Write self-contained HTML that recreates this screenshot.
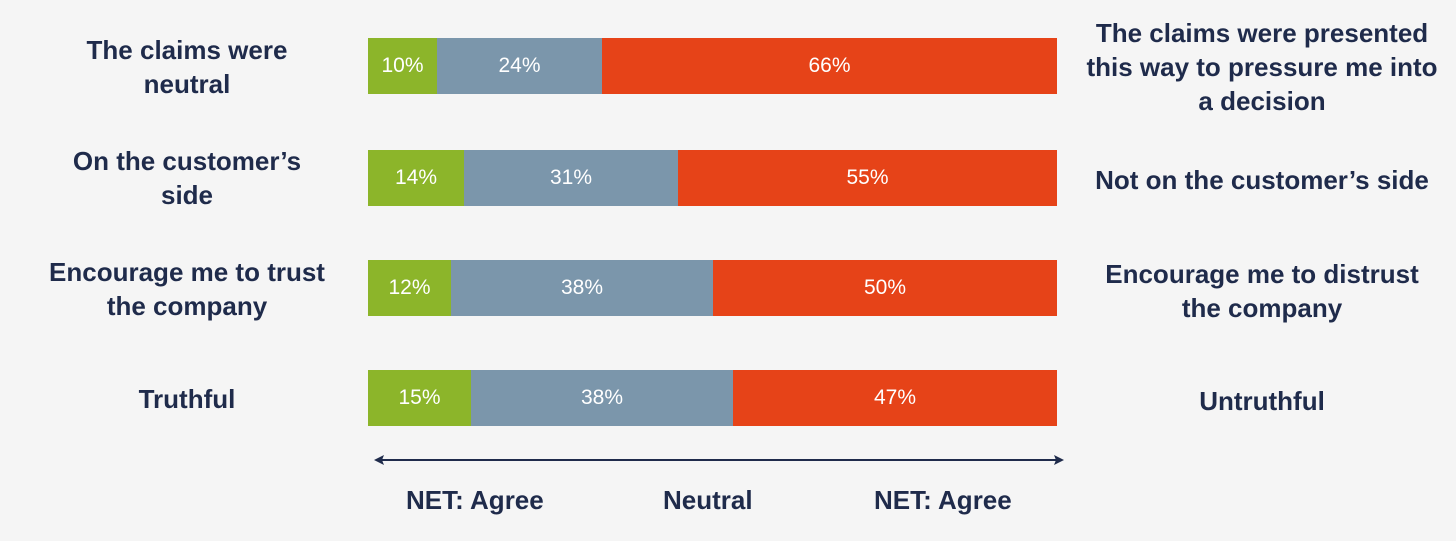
<!DOCTYPE html>
<html><head><style>
body{margin:0;width:1456px;height:541px;background:#f5f5f5;font-family:"Liberation Sans",sans-serif;overflow:hidden;position:relative}
.l,.r{position:absolute;color:#1f2b4b;font-size:26px;font-weight:bold;line-height:34px;text-align:center;transform:translateY(-50%)}
.l{left:7px;width:360px}
.r{left:1057px;width:410px}
.bar{position:absolute;left:368px;width:689px;height:56px;display:flex}
.bar div{height:100%;color:#fff;font-size:21px;display:flex;align-items:center;justify-content:center}
.g{background:#8cb52a}.b{background:#7b96ab}.o{background:#e64318}
.f{position:absolute;top:485px;font-size:26px;font-weight:bold;color:#1f2b4b}
</style></head><body>
<div class="l" style="top:67px">The claims were<br>neutral</div>
<div class="l" style="top:178px">On the customer’s<br>side</div>
<div class="l" style="top:289px">Encourage me to trust<br>the company</div>
<div class="l" style="top:399px">Truthful</div>
<div class="r" style="top:67px">The claims were presented<br>this way to pressure me into<br>a decision</div>
<div class="r" style="top:180px">Not on the customer’s side</div>
<div class="r" style="top:291px">Encourage me to distrust<br>the company</div>
<div class="r" style="top:401px">Untruthful</div>
<div class="bar" style="top:38px"><div class="g" style="width:69px">10%</div><div class="b" style="width:165px">24%</div><div class="o" style="flex:1">66%</div></div>
<div class="bar" style="top:150px"><div class="g" style="width:96px">14%</div><div class="b" style="width:214px">31%</div><div class="o" style="flex:1">55%</div></div>
<div class="bar" style="top:260px"><div class="g" style="width:83px">12%</div><div class="b" style="width:262px">38%</div><div class="o" style="flex:1">50%</div></div>
<div class="bar" style="top:370px"><div class="g" style="width:103px">15%</div><div class="b" style="width:262px">38%</div><div class="o" style="flex:1">47%</div></div>
<svg style="position:absolute;left:0;top:0" width="1456" height="541">
<line x1="378" y1="460" x2="1060" y2="460" stroke="#1f2b4b" stroke-width="2"/>
<polygon points="374,460 384,455 382,460 384,465" fill="#1f2b4b"/>
<polygon points="1064,460 1054,455 1056,460 1054,465" fill="#1f2b4b"/>
</svg>
<div class="f" style="left:406px">NET: Agree</div>
<div class="f" style="left:663px">Neutral</div>
<div class="f" style="left:874px">NET: Agree</div>
</body></html>
